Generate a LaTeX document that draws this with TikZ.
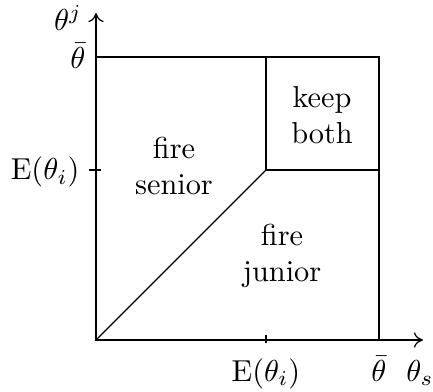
\documentclass[tikz,border=0pt]{standalone}
\usetikzlibrary{arrows.meta}
\begin{document}
\begin{tikzpicture}[x=0.33pt,y=-0.33pt,
  axis/.style={line width=0.4pt,-{To[length=3pt,width=5pt]}},
  frame/.style={line width=0.9pt},
  thinline/.style={line width=0.4pt},
  ticklabel/.style={inner sep=0pt},
  region/.style={align=center,inner sep=0pt}]
\useasboundingbox (0,0) rectangle (433,392);
% key points
\coordinate (O) at (96,340);
\coordinate (TL) at (96,57);
\coordinate (TR) at (379,57);
\coordinate (BR) at (379,340);
\coordinate (M) at (266,170);
\coordinate (Mtop) at (266,57);
\coordinate (Mright) at (379,170);
\coordinate (Mx) at (266,340);
\coordinate (My) at (96,170);
\coordinate (yend) at (96,13);
\coordinate (xend) at (423,340);
% axes
\draw[axis] (O) -- (yend);
\draw[axis] (O) -- (xend);
% square
\draw[frame] (O) -- (TL) -- (TR) -- (BR) -- cycle;
% partitions
\draw[thinline] (O) -- (M);
\draw[thinline] (Mtop) -- (M) -- (Mright);
% ticks
\draw[thinline] (Mx) ++(0,3) -- ++(0,-8);
\draw[thinline] (My) ++(-7,0) -- ++(12,0);
% axis labels
\node[ticklabel] (thj) at (68,18) {$\theta^j$};
\node[ticklabel,anchor=east] (tbary) at (86,56) {$\bar\theta$};
\node[ticklabel,anchor=east] (Ey) at (80,172) {$\mathrm{E}(\theta_i)$};
\node[ticklabel,anchor=base] (Ex) at (266,381) {$\mathrm{E}(\theta_i)$};
\node[ticklabel,anchor=base] (tbarx) at (379,381) {$\bar\theta$};
\node[ticklabel,anchor=base] (ths) at (420,381) {$\theta_s$};
% region labels
\node[region] (fs) at (174,166) {fire\\senior};
\node[region] (kb) at (322,115) {keep\\both};
\node[region] (fj) at (282,256) {fire\\junior};
\end{tikzpicture}
\end{document}
